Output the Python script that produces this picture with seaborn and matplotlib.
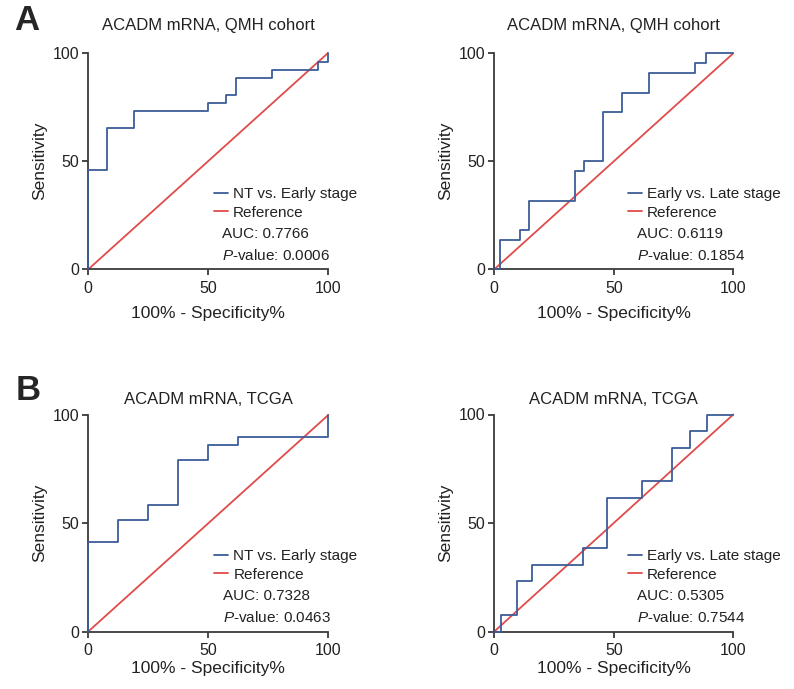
import matplotlib
matplotlib.use("Agg")
import matplotlib.pyplot as plt
import seaborn as sns
import pandas as pd

sns.set_theme(style="ticks")
plt.rcParams['font.family'] = ['Liberation Sans', 'DejaVu Sans']
plt.rcParams['mathtext.fontset'] = 'custom'
plt.rcParams['mathtext.rm'] = 'Liberation Sans'
plt.rcParams['mathtext.it'] = 'Liberation Sans:italic'

# ---------------- data (ROC vertices, % units) ----------------
a1_fpr = [0, 0, 7.69, 7.69, 19.23, 19.23, 50, 50, 57.69, 57.69, 61.54, 61.54,
          76.92, 76.92, 96.15, 96.15, 100, 100]
a1_tpr = [0, 46.15, 46.15, 65.38, 65.38, 73.08, 73.08, 76.92, 76.92, 80.77, 80.77,
          88.46, 88.46, 92.31, 92.31, 96.15, 96.15, 100]

a2_fpr = [0, 2.4, 2.4, 10.7, 10.7, 14.5, 14.5, 33.8, 33.8, 37.5, 37.5, 45.3, 45.3,
          53.3, 53.3, 64.7, 64.7, 84.0, 84.0, 88.4, 88.4, 100]
a2_tpr = [0, 0, 13.64, 13.64, 18.18, 18.18, 31.82, 31.82, 45.45, 45.45, 50, 50,
          72.73, 72.73, 81.82, 81.82, 90.91, 90.91, 95.45, 95.45, 100, 100]

b1_fpr = [0, 0, 12.5, 12.5, 25, 25, 37.5, 37.5, 50, 50, 62.5, 62.5, 100, 100]
b1_tpr = [0, 41.38, 41.38, 51.72, 51.72, 58.62, 58.62, 79.31, 79.31, 86.21, 86.21,
          89.66, 89.66, 100]

b2_fpr = [0, 2.8, 2.8, 9.3, 9.3, 15.9, 15.9, 37.2, 37.2, 47.0, 47.0, 61.6, 61.6,
          74.5, 74.5, 81.9, 81.9, 88.8, 88.8, 100]
b2_tpr = [0, 0, 7.69, 7.69, 23.08, 23.08, 30.77, 30.77, 38.46, 38.46, 61.54, 61.54,
          69.23, 69.23, 84.62, 84.62, 92.31, 92.31, 100, 100]

ref_x = [0, 100]
ref_y = [0, 100]

titles = ["ACADM mRNA, QMH cohort", "ACADM mRNA, QMH cohort",
          "ACADM mRNA, TCGA", "ACADM mRNA, TCGA"]
series_labels = ["NT vs. Early stage", "Early vs. Late stage",
                 "NT vs. Early stage", "Early vs. Late stage"]
auc_values = ["0.7766", "0.6119", "0.7328", "0.5305"]
p_values = ["0.0006", "0.1854", "0.0463", "0.7544"]
ticks = [0, 50, 100]

curves = [(a1_fpr, a1_tpr), (a2_fpr, a2_tpr), (b1_fpr, b1_tpr), (b2_fpr, b2_tpr)]

BLUE = "#3d5d98"
RED = "#e04b4b"
AX = "#3a3a3a"
TXT = "#222222"

W, H = 794, 689
fig = plt.figure(figsize=(W / 100, H / 100), dpi=100)

# axes boxes in pixels: (x0, x1, ytop, ybottom)
boxes = [(88.3, 327.7, 53.3, 269.3), (494.3, 733.3, 53.3, 269.3),
         (88.3, 328.3, 415.0, 631.5), (494.3, 733.3, 414.5, 631.5)]
title_off = [28, 28, 15, 15]
xlab_off = [37, 37, 30, 30]
ylab_x = [47, 453, 47, 453]
leg_x = [0.53, 0.565, 0.53, 0.565]

for i, (bx, (fx, ty)) in enumerate(zip(boxes, curves)):
    x0, x1, yt, yb = bx
    ax = fig.add_axes([x0 / W, 1 - yb / H, (x1 - x0) / W, (yb - yt) / H])
    df = pd.DataFrame({"fpr": fx, "tpr": ty})
    dref = pd.DataFrame({"x": ref_x, "y": ref_y})
    sns.lineplot(data=dref, x="x", y="y", ax=ax, color=RED, lw=1.3,
                 sort=False, estimator=None, label="Reference", clip_on=False, zorder=2)
    sns.lineplot(data=df, x="fpr", y="tpr", ax=ax, color=BLUE, lw=1.3,
                 sort=False, estimator=None, label=series_labels[i], clip_on=False, zorder=3)
    ax.set_xlim(0, 100)
    ax.set_ylim(0, 100)
    ax.set_xticks(ticks)
    ax.set_yticks(ticks)
    for s in ["top", "right"]:
        ax.spines[s].set_visible(False)
    for s in ["left", "bottom"]:
        ax.spines[s].set_color(AX)
        ax.spines[s].set_linewidth(1.3)
    ax.tick_params(axis="both", direction="out", length=4, width=1.3, color=AX,
                   labelsize=11.5, labelcolor=TXT)
    ax.tick_params(axis="x", pad=4.5)
    ax.tick_params(axis="y", pad=2.5)
    ax.set_xlabel("100% - Specificity%", fontsize=12.5, color=TXT)
    ax.set_ylabel("Sensitivity", fontsize=12.5, color=TXT)
    hpx = yb - yt
    wpx = x1 - x0
    ax.xaxis.set_label_coords(0.5, -xlab_off[i] / hpx)
    ax.yaxis.set_label_coords(-(x0 - ylab_x[i]) / wpx, 0.5)
    ax.text(0.5, 1 + title_off[i] / hpx, titles[i], transform=ax.transAxes,
            ha="center", va="center", fontsize=12, color=TXT)
    handles, labels = ax.get_legend_handles_labels()
    order = [1, 0]
    leg = ax.legend([handles[k] for k in order], [labels[k] for k in order],
                    loc="upper left", bbox_to_anchor=(leg_x[i] - 0.005, 0.38),
                    frameon=False, fontsize=11, handlelength=0.9, handletextpad=0.35,
                    borderpad=0, borderaxespad=0, labelspacing=0.3)
    for t in leg.get_texts():
        t.set_color(TXT)
    ax.text(leg_x[i] + 0.03, 0.165, f"AUC: {auc_values[i]}", transform=ax.transAxes,
            ha="left", va="center", fontsize=11, color=TXT)
    ax.text(leg_x[i] + 0.03, 0.063, r"$\it{P}$" + f"-value: {p_values[i]}",
            transform=ax.transAxes, ha="left", va="center", fontsize=11, color=TXT)

fig.text(27 / W, 1 - 21 / H, "A", fontsize=25, fontweight="bold", ha="center", va="center")
fig.text(28 / W, 1 - 391 / H, "B", fontsize=25, fontweight="bold", ha="center", va="center")

fig.savefig("out.png", dpi=100)
